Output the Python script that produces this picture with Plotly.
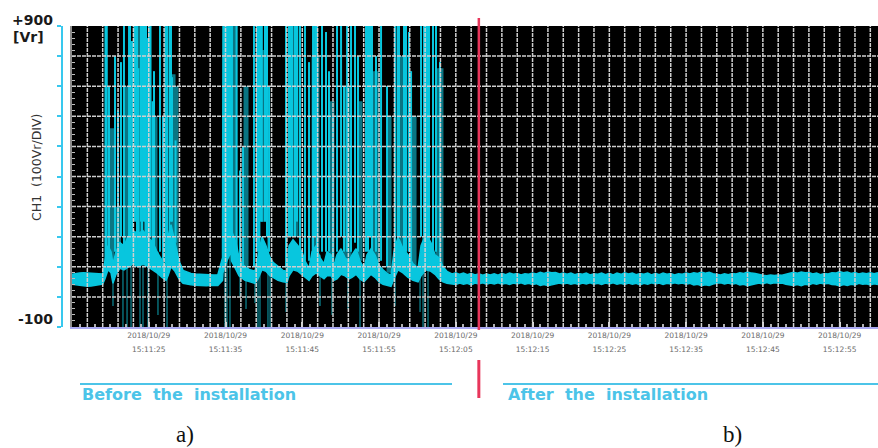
import pandas as pd
import plotly.graph_objects as go

START = pd.Timestamp("2018-10-29 15:11:15")
END = pd.Timestamp("2018-10-29 15:13:00")
FIRST_LABEL = pd.Timestamp("2018-10-29 15:11:25")
LAST_LABEL = pd.Timestamp("2018-10-29 15:12:55")
INSTALLED_AT = pd.Timestamp("2018-10-29 15:12:08")
Y_MIN, Y_MAX = -100, 900

# CH1 envelope (seconds after START): min / max of the trace in Vr
band_t = [
    0.0, 0.5, 1.0, 1.5, 2.0, 2.5, 3.0, 3.5, 4.0,
    4.30, 4.69, 5.08, 5.34, 5.73, 6.25, 6.77, 7.30, 7.95, 8.60, 9.25, 9.90,
    10.55, 11.07, 11.73, 12.25, 12.51, 12.90, 13.42, 13.94, 14.46,
    15.0, 15.5, 16.0, 16.5, 17.0, 17.5, 18.0, 18.5, 19.0,
    19.61, 19.67, 20.19, 20.71, 20.78, 21.37, 21.76, 22.02, 22.54, 23.19, 23.84,
    24.23, 24.75, 25.27, 25.80, 26.19, 26.84, 27.49, 28.01, 28.27, 28.79, 29.44,
    29.96, 30.35, 30.88, 31.27, 31.79, 32.31, 32.83, 33.22, 33.74, 34.13, 34.52,
    35.05, 35.57, 36.09, 36.48, 37.00, 37.52, 38.04, 38.43, 38.95, 39.47, 40.00,
    40.52, 41.04, 41.56, 41.95, 42.47, 43.12, 43.77, 44.43, 45.08, 45.47, 46.12,
    46.77, 47.29, 47.81, 48.33, 48.85,
    49.5, 50.0, 50.5, 51.0, 51.5, 52.0, 52.5, 53.0, 53.5, 54.0,
    54.5, 55.0, 55.5, 56.0, 56.5, 57.0, 57.5, 58.0, 58.5, 59.0,
    59.5, 60.0, 60.5, 61.0, 61.5, 62.0, 62.5, 63.0, 63.5, 64.0,
    64.5, 65.0, 65.5, 66.0, 66.5, 67.0, 67.5, 68.0, 68.5, 69.0,
    69.5, 70.0, 70.5, 71.0, 71.5, 72.0, 72.5, 73.0, 73.5, 74.0,
    74.5, 75.0, 75.5, 76.0, 76.5, 77.0, 77.5, 78.0, 78.5, 79.0,
    79.5, 80.0, 80.5, 81.0, 81.5, 82.0, 82.5, 83.0, 83.5, 84.0,
    84.5, 85.0, 85.5, 86.0, 86.5, 87.0, 87.5, 88.0, 88.5, 89.0,
    89.5, 90.0, 90.5, 91.0, 91.5, 92.0, 92.5, 93.0, 93.5, 94.0,
    94.5, 95.0, 95.5, 96.0, 96.5, 97.0, 97.5, 98.0, 98.5, 99.0,
    99.5, 100.0, 100.5, 101.0, 101.5, 102.0, 102.5, 103.0, 103.5, 104.0,
    104.5, 105.0,
]
band_lo = [
    42, 40, 38, 36, 35, 36, 38, 40, 43,
    60, 90, 80, 45, 75, 95, 90, 100, 110, 100, 110, 100,
    90, 80, 65, 55, 70, 100, 85, 60, 45,
    42, 40, 39, 38, 38, 37, 38, 37, 38,
    55, 80, 120, 150, 120, 90, 70, 65, 55, 50, 45,
    60, 90, 85, 70, 65, 55, 50, 48, 70, 90, 85,
    75, 65, 55, 70, 80, 70, 60, 70, 70, 55, 60,
    75, 70, 60, 65, 75, 60, 50, 60, 75, 65, 50,
    42, 38, 35, 60, 90, 80, 65, 55, 50, 70, 90,
    85, 75, 60, 50, 45,
    44, 41, 46, 42, 45, 40, 46, 43, 47, 42,
    46, 43, 47, 42, 45, 41, 46, 43, 47, 42,
    45, 41, 44, 38, 41, 37, 40, 42, 46, 43,
    46, 42, 45, 41, 46, 43, 47, 42, 45, 41,
    46, 43, 47, 42, 45, 41, 46, 42, 45, 40,
    45, 42, 47, 43, 46, 41, 45, 43, 47, 44,
    46, 42, 45, 40, 42, 37, 40, 38, 43, 45,
    47, 43, 46, 42, 45, 40, 42, 37, 40, 41,
    46, 43, 48, 44, 47, 45, 46, 42, 41, 38,
    41, 37, 42, 40, 45, 42, 46, 43, 45, 41,
    40, 36, 41, 38, 42, 40, 45, 42, 44, 40,
    44, 41,
]
band_hi = [
    75, 78, 79, 80, 80, 80, 78, 77, 76,
    120, 170, 150, 110, 150, 180, 170, 200, 220, 210, 220, 200,
    180, 150, 120, 100, 200, 240, 180, 120, 88,
    82, 78, 76, 75, 74, 73, 74, 73, 74,
    130, 900, 900, 900, 220, 180, 130, 115, 100, 90, 85,
    140, 200, 170, 130, 115, 100, 88, 85, 170, 190, 170,
    150, 120, 95, 150, 170, 130, 110, 150, 140, 105, 140,
    160, 130, 120, 140, 160, 120, 95, 140, 160, 140, 105,
    90, 78, 72, 150, 200, 160, 140, 110, 95, 170, 210,
    180, 140, 130, 100, 85,
    76, 80, 75, 79, 74, 78, 73, 77, 72, 76,
    73, 77, 72, 78, 74, 79, 75, 78, 73, 77,
    75, 79, 76, 82, 78, 83, 80, 81, 76, 79,
    75, 79, 74, 78, 75, 79, 73, 77, 75, 79,
    74, 78, 73, 79, 75, 80, 76, 79, 74, 78,
    75, 79, 73, 78, 74, 79, 75, 78, 73, 77,
    75, 79, 76, 80, 78, 83, 79, 82, 77, 75,
    73, 77, 74, 78, 76, 80, 78, 83, 79, 78,
    74, 72, 70, 73, 71, 73, 72, 76, 79, 82,
    79, 83, 80, 81, 76, 79, 74, 78, 76, 80,
    79, 84, 80, 83, 78, 81, 76, 79, 77, 80,
    77, 80,
]

# discharge spikes (bright trace)
spike_t = [
    4.36, 4.53, 4.82, 5.60, 5.99, 6.38, 6.77, 7.43, 7.56, 7.82, 8.14, 8.34,
    8.47, 8.66, 8.99, 9.12, 9.31, 9.51, 9.64, 9.84, 10.03, 10.23, 10.49, 10.68,
    11.46, 11.86, 12.18, 12.38, 12.70, 12.90, 13.03, 13.49,
    20.84, 21.43, 21.89, 22.28, 23.71, 24.10, 24.36, 24.56, 24.73, 25.14, 25.40,
    25.67, 27.88, 28.27, 28.44, 28.66, 29.05, 29.31, 29.70, 30.35, 30.88, 31.40,
    31.66, 31.92, 32.57, 33.09, 33.48, 34.00, 34.52, 35.05, 35.44, 35.83, 36.35,
    36.87, 37.26, 38.30, 38.56, 38.82, 39.08, 39.60, 40.26, 41.04, 42.08, 42.41,
    42.60, 43.25, 43.51, 43.90, 44.17, 45.47, 45.86, 46.06, 46.25, 46.51, 47.03,
    47.42, 47.94,
]
spike_lo = [
    100, 100, 150, 150, 150, 200, 150, 200, 200, 200, 250, 250,
    200, 150, 250, 200, 250, 250, 200, 200, 200, 200, 150, 150,
    150, 120, 110, 110, 200, 250, 250, 180,
    150, 120, 120, 100, 100, 150, 150, 250, 250, 250, 200,
    150, 100, 200, 200, 200, 200, 250, 150, 120, 120, 150,
    200, 150, 150, 150, 150, 120, 150, 200, 150, 150, 150,
    180, 150, 150, 150, 200, 150, 150, 120, 100, 150, 200,
    200, 150, 150, 150, 120, 200, 200, 200, 200, 150, 150,
    150, 120,
]
spike_hi = [
    900, 900, 700, 800, 620, 780, 900, 900, 900, 850, 900, 900,
    900, 760, 900, 900, 900, 900, 900, 860, 900, 900, 650, 750,
    900, 600, 900, 900, 900, 900, 730, 520,
    900, 900, 420, 500, 900, 900, 900, 900, 900, 900, 900,
    700, 900, 900, 900, 900, 900, 900, 900, 900, 780, 900,
    900, 900, 900, 880, 750, 600, 900, 900, 700, 900, 900,
    900, 800, 900, 900, 900, 900, 800, 900, 700, 900, 900,
    900, 900, 900, 880, 750, 900, 900, 900, 900, 900, 900,
    900, 780,
]

# dense, dimmer oscillation zones
dim_t = [
    5.21, 6.06, 7.04, 8.86, 9.64, 10.81, 13.16, 13.55,
    20.97, 21.24, 22.67, 24.62, 25.01, 28.53, 28.92, 29.18, 31.53, 31.92,
    33.87, 35.70, 36.09, 37.52, 39.34, 39.73, 41.30, 42.99, 43.38, 44.56,
    47.68, 48.07,
]
dim_lo = [
    100, 110, 150, 200, 150, 150, 150, 140,
    150, 150, 90, 250, 250, 200, 200, 200, 150, 150,
    120, 120, 120, 120, 120, 120, 80, 150, 150, 90,
    100, 100,
]
dim_hi = [
    560, 300, 700, 900, 700, 600, 740, 700,
    900, 900, 700, 820, 820, 900, 900, 900, 800, 800,
    650, 700, 700, 650, 750, 750, 600, 800, 800, 600,
    760, 760,
]

# negative excursions
drop_t = [
    5.34, 6.64, 7.17, 7.69, 8.86, 9.25, 9.90, 11.20, 12.38,
    19.93, 20.19, 20.58, 21.89, 22.67, 23.84, 24.23, 24.49, 25.53, 25.80,
    27.88, 32.31, 33.87, 35.96, 37.52, 42.08, 45.34, 45.73, 46.38,
]
drop_hi = [
    120, 150, 160, 200, 200, 200, 180, 150, 120,
    200, 200, 200, 120, 100, 90, 150, 250, 200, 120,
    100, 140, 110, 110, 110, 150, 100, 200, 200,
]
drop_lo = [
    -30, -100, -100, -100, -100, -100, -100, -60, -100,
    -100, -100, -100, 0, -40, -20, -100, -100, -100, -100,
    -50, -30, -60, -40, -100, -30, -50, -100, -100,
]

CYAN = "#08c6de"
DIM = "#0a7583"
DROP = "#0b8896"
GRID = "#cfcfcf"
RED = "#e8365b"
LABEL_CYAN = "#4cc4e8"
W, H = 878, 448
L_PLOT, T_PLOT, B_PLOT = 72, 26, 327


def at(seconds):
    return [START + pd.Timedelta(seconds=s) for s in seconds]


def vsegments(ts, lo, hi):
    xs, ys = [], []
    for x, a, b in zip(at(ts), lo, hi):
        xs += [x, x, None]
        ys += [a, b, None]
    return xs, ys


def py(pixel_y):
    # vertical pixel -> paper fraction of the plotting area
    return (B_PLOT - pixel_y) / (B_PLOT - T_PLOT)


fig = go.Figure()

dx, dy = vsegments(drop_t, drop_lo, drop_hi)
fig.add_trace(go.Scatter(x=dx, y=dy, mode="lines", line=dict(color=DROP, width=1.2)))

mx, my = vsegments(dim_t, dim_lo, dim_hi)
fig.add_trace(go.Scatter(x=mx, y=my, mode="lines", line=dict(color=DIM, width=5)))

fig.add_trace(go.Scatter(x=at(band_t), y=band_lo, mode="lines",
                         line=dict(color=CYAN, width=1.5)))
fig.add_trace(go.Scatter(x=at(band_t), y=band_hi, mode="lines", fill="tonexty",
                         fillcolor=CYAN, line=dict(color=CYAN, width=1.5)))

sx, sy = vsegments(spike_t, spike_lo, spike_hi)
fig.add_trace(go.Scatter(x=sx, y=sy, mode="lines", line=dict(color=CYAN, width=2)))

# carrier trace for the overlaid bracket / time-label axes
fig.add_trace(go.Scatter(x=[START], y=[None], xaxis="x2", yaxis="y2",
                         mode="markers", hoverinfo="skip"))

label_ticks = list(pd.date_range(FIRST_LABEL, LAST_LABEL, freq="10s"))
tick_font = dict(family="DejaVu Sans", size=7.5, color="#6b6b6b")
common_x = dict(type="date", range=[START, END], tickmode="array",
                tickvals=label_ticks, showgrid=False, zeroline=False,
                fixedrange=True, tickfont=tick_font, automargin=False)

fig.update_layout(
    width=W, height=H,
    margin=dict(l=0, r=0, t=T_PLOT, b=H - B_PLOT, autoexpand=False),
    paper_bgcolor="white", plot_bgcolor="black",
    showlegend=False, hovermode=False,
    xaxis=dict(**common_x, domain=[L_PLOT / W, 1], tickformat="%Y/%m/%d",
               ticks="inside", ticklen=5, tickwidth=1.5, tickcolor="#d8d8d8",
               minor=dict(ticks="inside", dtick=2000, ticklen=3, tickcolor="#b0b0b0"),
               showline=True, linecolor="#a9a9f2", linewidth=2),
    xaxis2=dict(**common_x, overlaying="x", anchor="y", side="bottom",
                tickformat="%H:%M:%S", ticks="", showline=False,
                ticklabelstandoff=16),
    yaxis=dict(range=[Y_MIN, Y_MAX], showticklabels=False, showgrid=False,
               zeroline=False, showline=True, linecolor="#8c8c8c", linewidth=2,
               ticks="inside", tick0=Y_MIN, dtick=20, ticklen=3,
               tickcolor="#bdbdbd", fixedrange=True, automargin=False),
    yaxis2=dict(range=[Y_MIN, Y_MAX], overlaying="y", anchor="free",
                position=62 / W, side="left", showticklabels=False,
                showgrid=False, zeroline=False, showline=True,
                linecolor="#38c8ee", linewidth=2, ticks="outside",
                tick0=Y_MIN, dtick=100, ticklen=4, tickwidth=1.5,
                tickcolor="#38c8ee", fixedrange=True, automargin=False),
)

shapes = []
grid_line = dict(color=GRID, width=1.5, dash="4px,1px")
for ts in pd.date_range(START + pd.Timedelta(seconds=2), END - pd.Timedelta(seconds=1), freq="2s"):
    shapes.append(dict(type="line", xref="x", yref="y", x0=ts, x1=ts,
                       y0=Y_MIN, y1=Y_MAX, line=grid_line, layer="above"))
for v in range(Y_MIN + 100, Y_MAX, 100):
    shapes.append(dict(type="line", xref="x", yref="y", x0=START, x1=END,
                       y0=v, y1=v, line=grid_line, layer="above"))
# installation instant
shapes.append(dict(type="line", xref="x", yref="paper", x0=INSTALLED_AT, x1=INSTALLED_AT,
                   y0=py(330), y1=py(18), line=dict(color=RED, width=2.5), layer="above"))
shapes.append(dict(type="line", xref="x", yref="paper", x0=INSTALLED_AT, x1=INSTALLED_AT,
                   y0=py(398), y1=py(360), line=dict(color=RED, width=3), layer="above"))
# section underlines
for x0, x1 in [(80, 452), (503, 878)]:
    shapes.append(dict(type="line", xref="paper", yref="paper", x0=x0 / W, x1=x1 / W,
                       y0=py(384), y1=py(384), line=dict(color=LABEL_CYAN, width=2)))
fig.update_layout(shapes=shapes)

NB = "\u00a0"
bold = dict(family="DejaVu Sans", size=14, color="#1a1a1a", weight="bold")
section_font = dict(family="DejaVu Sans", size=16, color=LABEL_CYAN, weight="bold")
panel_font = dict(family="Liberation Serif", size=23, color="#111111")
notes = [
    dict(text="+900", x=32 / W, y=py(20), font=bold),
    dict(text="[Vr]", x=28 / W, y=py(37), font=bold),
    dict(text="-100", x=35 / W, y=py(319), font=bold),
    dict(text=f"CH1{NB}{NB}(100Vr/DIV)", x=36 / W, y=py(168), textangle=-90,
         font=dict(family="DejaVu Sans", size=12.5, color="#333333")),
    dict(text=f"Before{NB}{NB}the{NB}{NB}installation", x=80 / W, y=py(394),
         xanchor="left", font=section_font),
    dict(text=f"After{NB}{NB}the{NB}{NB}installation", x=506 / W, y=py(394),
         xanchor="left", font=section_font),
    dict(text="a)", x=185 / W, y=py(434), font=panel_font),
    dict(text="b)", x=732 / W, y=py(434), font=panel_font),
]
for n in notes:
    base = dict(xref="paper", yref="paper", showarrow=False, xanchor="center", yanchor="middle")
    base.update(n)
    fig.add_annotation(**base)

fig.write_html("out.html")
